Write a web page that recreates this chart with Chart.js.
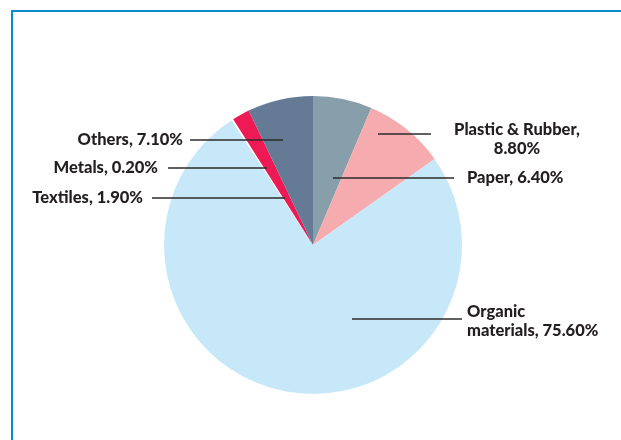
<!DOCTYPE html>
<html>
<head>
<meta charset="utf-8">
<script src="https://cdn.jsdelivr.net/npm/chart.js@4.4.0/dist/chart.umd.min.js"></script>
<style>
  html, body { margin: 0; padding: 0; background: #fff; }
  #wrap { position: relative; width: 621px; height: 440px; }
  #frame { position: absolute; left: 11px; top: 10px; right: -5px; bottom: -5px;
           border-left: 2px solid #0a8ccc; border-top: 2px solid #0a8ccc; }
  canvas { position: absolute; left: 0; top: 0; }
</style>
</head>
<body>
<div id="wrap">
  <div id="frame"></div>
  <canvas id="pie" width="621" height="440"></canvas>
</div>
<script>
// Composition des déchets (%), sens horaire depuis midi
const categories = ["Paper", "Plastic & Rubber", "Organic materials", "Metals", "Textiles", "Others"];
const shares = [6.4, 8.8, 75.6, 0.2, 1.9, 7.1];
const sliceColors = ["#869fab", "#f6acae", "#c7e8f8", "#ffffff", "#ee1a55", "#647a95"];

// Étiquettes : texte, position et trait de rappel (relatifs au centre du camembert)
const labelLines = [
  ["Paper, 6.40%"],
  ["Plastic & Rubber,", "8.80%"],
  ["Organic", "materials, 75.60%"],
  ["Metals, 0.20%"],
  ["Textiles, 1.90%"],
  ["Others, 7.10%"],
];
const labelLayout = [
  { align: "left", tx: 154, ty: -67, x1: 20, x2: 141, y: -67 },
  { align: "center", tx: 204, ty: -115, x1: 65, x2: 118, y: -111 },
  { align: "left", tx: 154, ty: 67, x1: 39, x2: 149, y: 74 },
  { align: "right", tx: -155, ty: -77, x1: -145, x2: -46, y: -77 },
  { align: "right", tx: -170, ty: -47, x1: -161, x2: -28, y: -47 },
  { align: "right", tx: -130, ty: -105, x1: -123, x2: -30, y: -105 },
];

const labelPlugin = {
  id: "labels",
  afterDraw(chart) {
    const ctx = chart.ctx;
    const arc = chart.getDatasetMeta(0).data[0];
    const cx = arc.x, cy = arc.y;
    ctx.save();
    labelLayout.forEach((l, i) => {
      ctx.strokeStyle = "#2b2b2b";
      ctx.lineWidth = 1.6;
      ctx.beginPath();
      ctx.moveTo(cx + l.x1, cy + l.y);
      ctx.lineTo(cx + l.x2, cy + l.y);
      ctx.stroke();

      ctx.fillStyle = "#231f20";
      ctx.font = "900 16.5px Lato";
      ctx.textAlign = l.align;
      ctx.textBaseline = "middle";
      labelLines[i].forEach((t, k) => {
        ctx.fillText(t, cx + l.tx, cy + l.ty + k * 19);
      });
    });
    ctx.restore();
  },
};

new Chart(document.getElementById("pie"), {
  type: "pie",
  data: {
    labels: categories,
    datasets: [{
      data: shares,
      backgroundColor: sliceColors,
      borderWidth: 0,
    }],
  },
  options: {
    responsive: false,
    animation: false,
    layout: { padding: { left: 163, right: 158, top: 96, bottom: 46 } },
    plugins: {
      legend: { display: false },
      tooltip: { enabled: false },
    },
  },
  plugins: [labelPlugin],
});
</script>
</body>
</html>
